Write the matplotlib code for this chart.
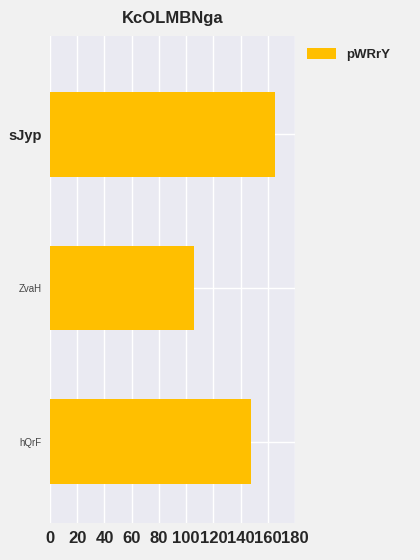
import matplotlib

matplotlib.use("Agg")

import matplotlib.pyplot as plt

categories = ["sJyp", "ZvaH", "hQrF"]
values = [165, 106, 148]
series_name = "pWRrY"
title = "KcOLMBNga"
x_ticks = [0, 20, 40, 60, 80, 100, 120, 140, 160, 180]

plt.rcParams["font.family"] = ["Liberation Sans", "DejaVu Sans"]

figure = plt.figure(figsize=(4.2, 5.6), dpi=100, facecolor="#f1f1f1")
axes = figure.add_axes([50 / 420, 1 - 523 / 560, 245 / 420, 487 / 560])
axes.set_facecolor("#eaeaf2")

positions = list(range(len(categories)))
axes.barh(positions, values, height=0.55, color="#ffbf00", label=series_name, zorder=2)

axes.set_xlim(0, 180)
axes.set_ylim(2.53, -0.64)
axes.set_xticks(x_ticks)
axes.set_xticklabels([str(t) for t in x_ticks], fontsize=12, fontweight="bold", color="#262626")
axes.set_yticks(positions)
axes.set_yticklabels(categories)
for i, label in enumerate(axes.get_yticklabels()):
    if i == 0:
        label.set_fontsize(10.5)
        label.set_fontweight("bold")
        label.set_color("#262626")
    else:
        label.set_fontsize(7)
        label.set_color("#444444")
axes.tick_params(length=0, pad=6)
axes.grid(True, color="white", linewidth=1, zorder=1)
for spine in axes.spines.values():
    spine.set_visible(False)

axes.set_title(title, fontsize=12, fontweight="bold", color="#262626", pad=9)

legend = axes.legend(
    loc="upper left",
    bbox_to_anchor=(1.0, 1.0),
    frameon=False,
    handlelength=2.2,
    handleheight=0.9,
    prop={"weight": "bold", "size": 9.5},
)
for text in legend.get_texts():
    text.set_color("#262626")

figure.savefig("out.png", dpi=100, facecolor=figure.get_facecolor())
plt.close(figure)
